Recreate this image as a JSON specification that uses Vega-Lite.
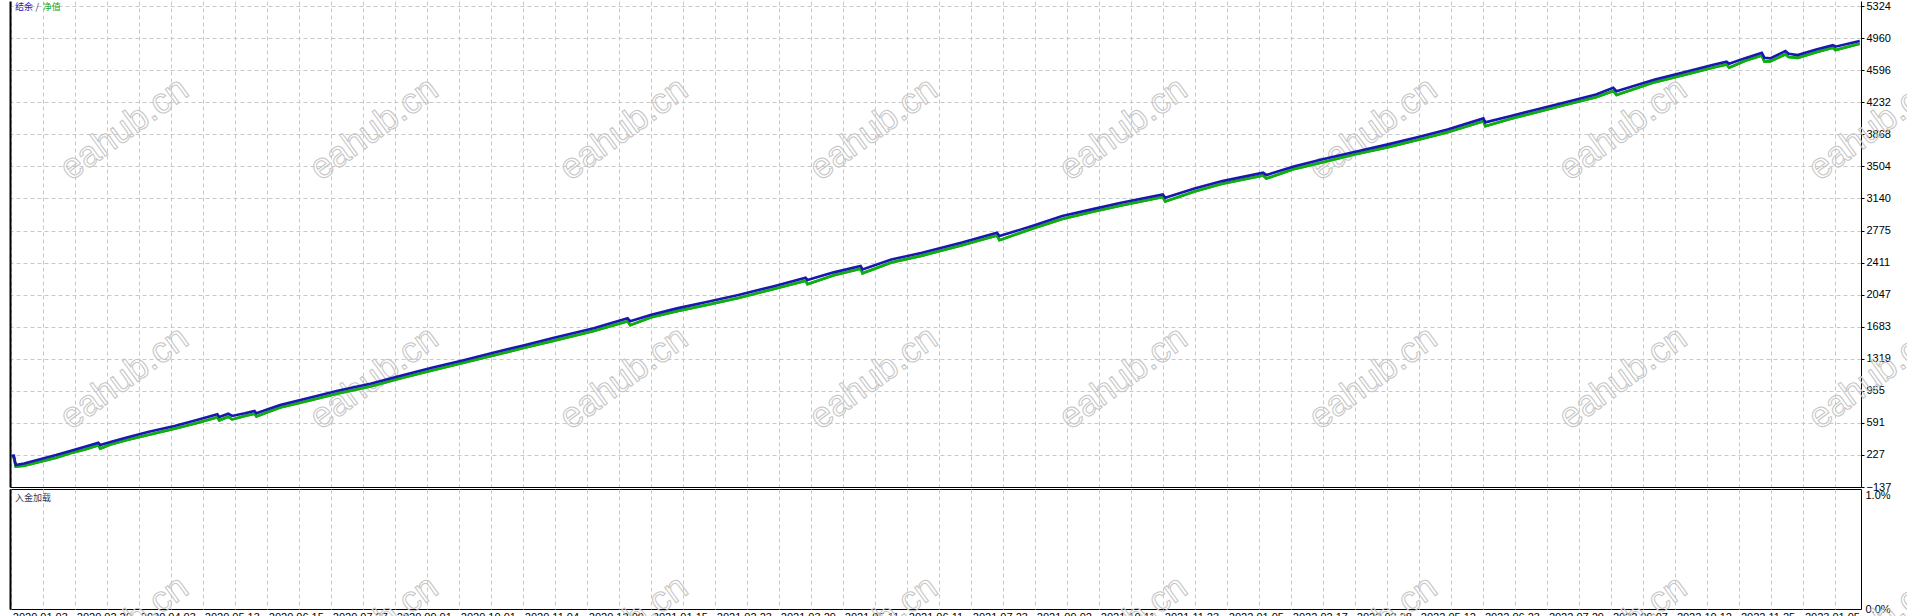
{
  "$schema": "https://vega.github.io/schema/vega-lite/v6.json",
  "background": "white",
  "padding": {"left": 6, "top": 0, "right": 0, "bottom": 0},
  "spacing": 2,
  "bounds": "flush",
  "config": {
    "view": {"stroke": null},
    "axis": {"labelFont": "Liberation Sans Narrow, Liberation Sans", "labelFontSize": 11, "labelColor": "black", "labelOverlap": false, "labelFlush": false, "labelBound": false}
  },
  "datasets": {
    "eq": [
      {"t": 0.0, "b": 218, "e": 205},
      {"t": 0.04, "b": 220, "e": 200},
      {"t": 0.07, "b": 113, "e": 95},
      {"t": 0.2, "b": 130, "e": 105},
      {"t": 0.45, "b": 177, "e": 150},
      {"t": 0.7, "b": 225, "e": 195},
      {"t": 0.92, "b": 272, "e": 245},
      {"t": 1.15, "b": 320, "e": 290},
      {"t": 1.36, "b": 366, "e": 338},
      {"t": 1.39, "b": 340, "e": 300},
      {"t": 1.55, "b": 375, "e": 345},
      {"t": 1.79, "b": 423, "e": 393},
      {"t": 2.15, "b": 490, "e": 455},
      {"t": 2.55, "b": 555, "e": 525},
      {"t": 2.9, "b": 625, "e": 590},
      {"t": 3.22, "b": 688, "e": 655},
      {"t": 3.25, "b": 658, "e": 620},
      {"t": 3.39, "b": 695, "e": 660},
      {"t": 3.45, "b": 670, "e": 630},
      {"t": 3.65, "b": 700, "e": 668},
      {"t": 3.8, "b": 726, "e": 695},
      {"t": 3.83, "b": 700, "e": 665},
      {"t": 4.2, "b": 795, "e": 765},
      {"t": 4.66, "b": 877, "e": 845},
      {"t": 5.1, "b": 955, "e": 925},
      {"t": 5.61, "b": 1036, "e": 1005},
      {"t": 6.1, "b": 1130, "e": 1100},
      {"t": 6.57, "b": 1217, "e": 1185},
      {"t": 7.05, "b": 1300, "e": 1270},
      {"t": 7.53, "b": 1387, "e": 1355},
      {"t": 8.0, "b": 1470, "e": 1440},
      {"t": 8.48, "b": 1558, "e": 1525},
      {"t": 9.1, "b": 1665, "e": 1635},
      {"t": 9.63, "b": 1778, "e": 1745},
      {"t": 9.67, "b": 1745, "e": 1700},
      {"t": 10.0, "b": 1820, "e": 1790},
      {"t": 10.4, "b": 1891, "e": 1860},
      {"t": 10.9, "b": 1968, "e": 1935},
      {"t": 11.36, "b": 2043, "e": 2010},
      {"t": 11.9, "b": 2140, "e": 2108},
      {"t": 12.41, "b": 2239, "e": 2205},
      {"t": 12.44, "b": 2212, "e": 2165},
      {"t": 12.85, "b": 2300, "e": 2268},
      {"t": 13.27, "b": 2372, "e": 2340},
      {"t": 13.3, "b": 2334, "e": 2290},
      {"t": 13.75, "b": 2445, "e": 2412},
      {"t": 14.23, "b": 2522, "e": 2490},
      {"t": 14.84, "b": 2636, "e": 2605},
      {"t": 15.4, "b": 2750, "e": 2718},
      {"t": 15.44, "b": 2712, "e": 2665},
      {"t": 15.95, "b": 2826, "e": 2795},
      {"t": 16.42, "b": 2939, "e": 2905},
      {"t": 16.88, "b": 3015, "e": 2985},
      {"t": 17.34, "b": 3090, "e": 3060},
      {"t": 17.99, "b": 3185, "e": 3155},
      {"t": 18.03, "b": 3148, "e": 3105},
      {"t": 18.5, "b": 3255, "e": 3222},
      {"t": 18.92, "b": 3336, "e": 3305},
      {"t": 19.56, "b": 3431, "e": 3400},
      {"t": 19.61, "b": 3405, "e": 3365},
      {"t": 20.05, "b": 3505, "e": 3475},
      {"t": 20.49, "b": 3583, "e": 3550},
      {"t": 21.0, "b": 3670, "e": 3640},
      {"t": 21.51, "b": 3753, "e": 3722},
      {"t": 22.0, "b": 3840, "e": 3808},
      {"t": 22.44, "b": 3923, "e": 3890},
      {"t": 23.0, "b": 4048, "e": 4015},
      {"t": 23.03, "b": 4003, "e": 3960},
      {"t": 23.43, "b": 4075, "e": 4045},
      {"t": 23.83, "b": 4150, "e": 4118},
      {"t": 24.3, "b": 4235, "e": 4205},
      {"t": 24.76, "b": 4320, "e": 4288},
      {"t": 25.03, "b": 4395, "e": 4360},
      {"t": 25.08, "b": 4357, "e": 4315},
      {"t": 25.68, "b": 4491, "e": 4460},
      {"t": 26.15, "b": 4575, "e": 4545},
      {"t": 26.61, "b": 4661, "e": 4630},
      {"t": 26.8, "b": 4691, "e": 4660},
      {"t": 26.84, "b": 4669, "e": 4625},
      {"t": 27.1, "b": 4735, "e": 4705},
      {"t": 27.35, "b": 4793, "e": 4762},
      {"t": 27.39, "b": 4737, "e": 4695},
      {"t": 27.48, "b": 4730, "e": 4695},
      {"t": 27.72, "b": 4812, "e": 4775},
      {"t": 27.77, "b": 4782, "e": 4745},
      {"t": 27.91, "b": 4767, "e": 4735},
      {"t": 28.2, "b": 4830, "e": 4800},
      {"t": 28.46, "b": 4880, "e": 4850},
      {"t": 28.5, "b": 4862, "e": 4825},
      {"t": 28.88, "b": 4926, "e": 4895}
    ],
    "wmTop": [
      {"t": 1.766, "v": 3928, "w": "eahub.cn"},
      {"t": 5.668, "v": 3928, "w": "eahub.cn"},
      {"t": 9.57, "v": 3928, "w": "eahub.cn"},
      {"t": 13.473, "v": 3928, "w": "eahub.cn"},
      {"t": 17.375, "v": 3928, "w": "eahub.cn"},
      {"t": 21.277, "v": 3928, "w": "eahub.cn"},
      {"t": 25.18, "v": 3928, "w": "eahub.cn"},
      {"t": 29.082, "v": 3928, "w": "eahub.cn"},
      {"t": 1.766, "v": 1101, "w": "eahub.cn"},
      {"t": 5.668, "v": 1101, "w": "eahub.cn"},
      {"t": 9.57, "v": 1101, "w": "eahub.cn"},
      {"t": 13.473, "v": 1101, "w": "eahub.cn"},
      {"t": 17.375, "v": 1101, "w": "eahub.cn"},
      {"t": 21.277, "v": 1101, "w": "eahub.cn"},
      {"t": 25.18, "v": 1101, "w": "eahub.cn"},
      {"t": 29.082, "v": 1101, "w": "eahub.cn"}
    ],
    "wmBottom": [
      {"t": 1.766, "v": -0.15, "w": "eahub.cn"},
      {"t": 5.668, "v": -0.15, "w": "eahub.cn"},
      {"t": 9.57, "v": -0.15, "w": "eahub.cn"},
      {"t": 13.473, "v": -0.15, "w": "eahub.cn"},
      {"t": 17.375, "v": -0.15, "w": "eahub.cn"},
      {"t": 21.277, "v": -0.15, "w": "eahub.cn"},
      {"t": 25.18, "v": -0.15, "w": "eahub.cn"},
      {"t": 29.082, "v": -0.15, "w": "eahub.cn"}
    ],
    "legendTop": [
      {"t": 0.058, "v": 5316, "label": "结余", "k": "bal"},
      {"t": 0.38, "v": 5316, "label": "/", "k": "sep"},
      {"t": 0.49, "v": 5316, "label": "净值", "k": "eq"}
    ],
    "legendBottom": [
      {"t": 0.058, "v": 0.925, "label": "入金加载"}
    ]
  },
  "vconcat": [
    {
      "width": 1851,
      "height": 486,
      "resolve": {"axis": {"x": "independent", "y": "independent"}},
      "layer": [
        {
          "data": {"name": "eq"},
          "mark": {"type": "line", "color": "#0fae0f", "strokeWidth": 2.6},
          "encoding": {
            "x": {"field": "t", "type": "quantitative", "title": null, "scale": {"domain": [-0.02, 28.9], "nice": false, "zero": false},
              "axis": {"orient": "bottom", "values": [0,0.5,1,1.5,2,2.5,3,3.5,4,4.5,5,5.5,6,6.5,7,7.5,8,8.5,9,9.5,10,10.5,11,11.5,12,12.5,13,13.5,14,14.5,15,15.5,16,16.5,17,17.5,18,18.5,19,19.5,20,20.5,21,21.5,22,22.5,23,23.5,24,24.5,25,25.5,26,26.5,27,27.5,28,28.5],
                "labels": false, "ticks": false, "domain": true, "domainColor": "black", "domainWidth": 1, "grid": true, "gridColor": "#c8c8c8", "gridDash": [4, 3], "gridWidth": 1}},
            "y": {"field": "e", "type": "quantitative", "title": null, "scale": {"domain": [-137, 5381], "nice": false, "zero": false},
              "axis": {"orient": "right", "values": [-137, 227, 591, 955, 1319, 1683, 2047, 2411, 2775, 3140, 3504, 3868, 4232, 4596, 4960, 5324], "format": "d",
                "labelAlign": "left", "labelBaseline": "middle", "labelPadding": 2, "ticks": true, "tickSize": 3, "tickColor": "black", "domain": true, "domainColor": "black", "domainWidth": 1,
                "grid": true, "gridColor": "#c8c8c8", "gridDash": [4, 3], "gridWidth": 1, "labelOverlap": false, "labelFlush": false, "labelBound": false}}
          }
        },
        {
          "data": {"name": "wmTop"},
          "mark": {"type": "text", "font": "Liberation Sans", "fontSize": 36, "angle": 324, "align": "center", "baseline": "middle", "fillOpacity": 0, "stroke": "#c4c4c4", "strokeWidth": 1},
          "encoding": {
            "x": {"field": "t", "type": "quantitative", "title": null, "axis": null},
            "y": {"field": "v", "type": "quantitative", "title": null, "axis": null},
            "text": {"field": "w"}
          }
        },
        {
          "data": {"name": "eq"},
          "mark": {"type": "line", "color": "#0fae0f", "strokeWidth": 2.6},
          "encoding": {
            "x": {"field": "t", "type": "quantitative", "title": null, "axis": null},
            "y": {"field": "e", "type": "quantitative", "title": null, "axis": null}
          }
        },
        {
          "data": {"name": "eq"},
          "mark": {"type": "line", "color": "#1818b0", "strokeWidth": 2.6},
          "encoding": {
            "x": {"field": "t", "type": "quantitative", "title": null, "axis": null},
            "y": {"field": "b", "type": "quantitative", "title": null,
              "axis": {"orient": "left", "labels": false, "ticks": false, "grid": false, "domain": true, "domainColor": "black", "domainWidth": 2}}
          }
        },
        {
          "data": {"name": "legendTop"},
          "mark": {"type": "text", "font": "Noto Sans CJK SC", "fontSize": 9, "align": "left", "baseline": "middle"},
          "encoding": {
            "x": {"field": "t", "type": "quantitative", "title": null, "axis": null},
            "y": {"field": "v", "type": "quantitative", "title": null, "axis": null},
            "text": {"field": "label"},
            "color": {"field": "k", "type": "nominal", "scale": {"domain": ["bal", "sep", "eq"], "range": ["#1b1bb5", "#333333", "#11a811"]}, "legend": null}
          }
        }
      ]
    },
    {
      "width": 1851,
      "height": 120,
      "view": {"stroke": "black", "strokeWidth": 1},
      "resolve": {"axis": {"x": "independent", "y": "independent"}},
      "layer": [
        {
          "data": {"name": "wmBottom"},
          "mark": {"type": "text", "font": "Liberation Sans", "fontSize": 36, "angle": 324, "align": "center", "baseline": "middle", "fillOpacity": 0, "stroke": "#c4c4c4", "strokeWidth": 1},
          "encoding": {
            "x": {"field": "t", "type": "quantitative", "title": null, "scale": {"domain": [-0.02, 28.9], "nice": false, "zero": false},
              "axis": {"orient": "bottom", "values": [0,0.5,1,1.5,2,2.5,3,3.5,4,4.5,5,5.5,6,6.5,7,7.5,8,8.5,9,9.5,10,10.5,11,11.5,12,12.5,13,13.5,14,14.5,15,15.5,16,16.5,17,17.5,18,18.5,19,19.5,20,20.5,21,21.5,22,22.5,23,23.5,24,24.5,25,25.5,26,26.5,27,27.5,28,28.5],
                "labelExpr": "datum.value % 1 == 0 ? ['2020.01.03','2020.02.20','2020.04.03','2020.05.13','2020.06.15','2020.07.27','2020.09.01','2020.10.01','2020.11.04','2020.12.09','2021.01.15','2021.02.23','2021.03.29','2021.05.11','2021.06.11','2021.07.23','2021.09.02','2021.10.11','2021.11.23','2022.01.05','2022.02.17','2022.03.28','2022.05.12','2022.06.23','2022.07.29','2022.09.07','2022.10.12','2022.11.25','2023.01.05'][datum.value] : ''",
                "labelAlign": "left", "labelBaseline": "top", "labelPadding": 2, "labelOffset": 1, "labelOverlap": false, "labelFlush": false, "labelBound": false,
                "ticks": false, "domain": false, "grid": true, "gridColor": "#c8c8c8", "gridDash": [4, 3], "gridWidth": 1}},
            "y": {"field": "v", "type": "quantitative", "title": null, "scale": {"domain": [0, 1], "nice": false, "zero": false},
              "axis": {"orient": "right", "values": [0, 1], "labelExpr": "datum.value == 1 ? '1.0%' : '0.0%'", "labelAlign": "left",
                "labelBaseline": {"condition": {"test": "datum.value == 1", "value": "top"}, "value": "middle"},
                "labelPadding": 4, "ticks": false, "domain": false, "grid": false, "labelOverlap": false, "labelFlush": false, "labelBound": false}},
            "text": {"field": "w"}
          }
        },
        {
          "data": {"name": "legendBottom"},
          "mark": {"type": "text", "font": "Noto Sans CJK SC", "fontSize": 9, "align": "left", "baseline": "middle", "color": "#2f3f5f"},
          "encoding": {
            "x": {"field": "t", "type": "quantitative", "title": null, "axis": null},
            "y": {"field": "v", "type": "quantitative", "title": null,
              "axis": {"orient": "left", "labels": false, "ticks": false, "grid": false, "domain": true, "domainColor": "black", "domainWidth": 2}},
            "text": {"field": "label"}
          }
        }
      ]
    }
  ]
}
